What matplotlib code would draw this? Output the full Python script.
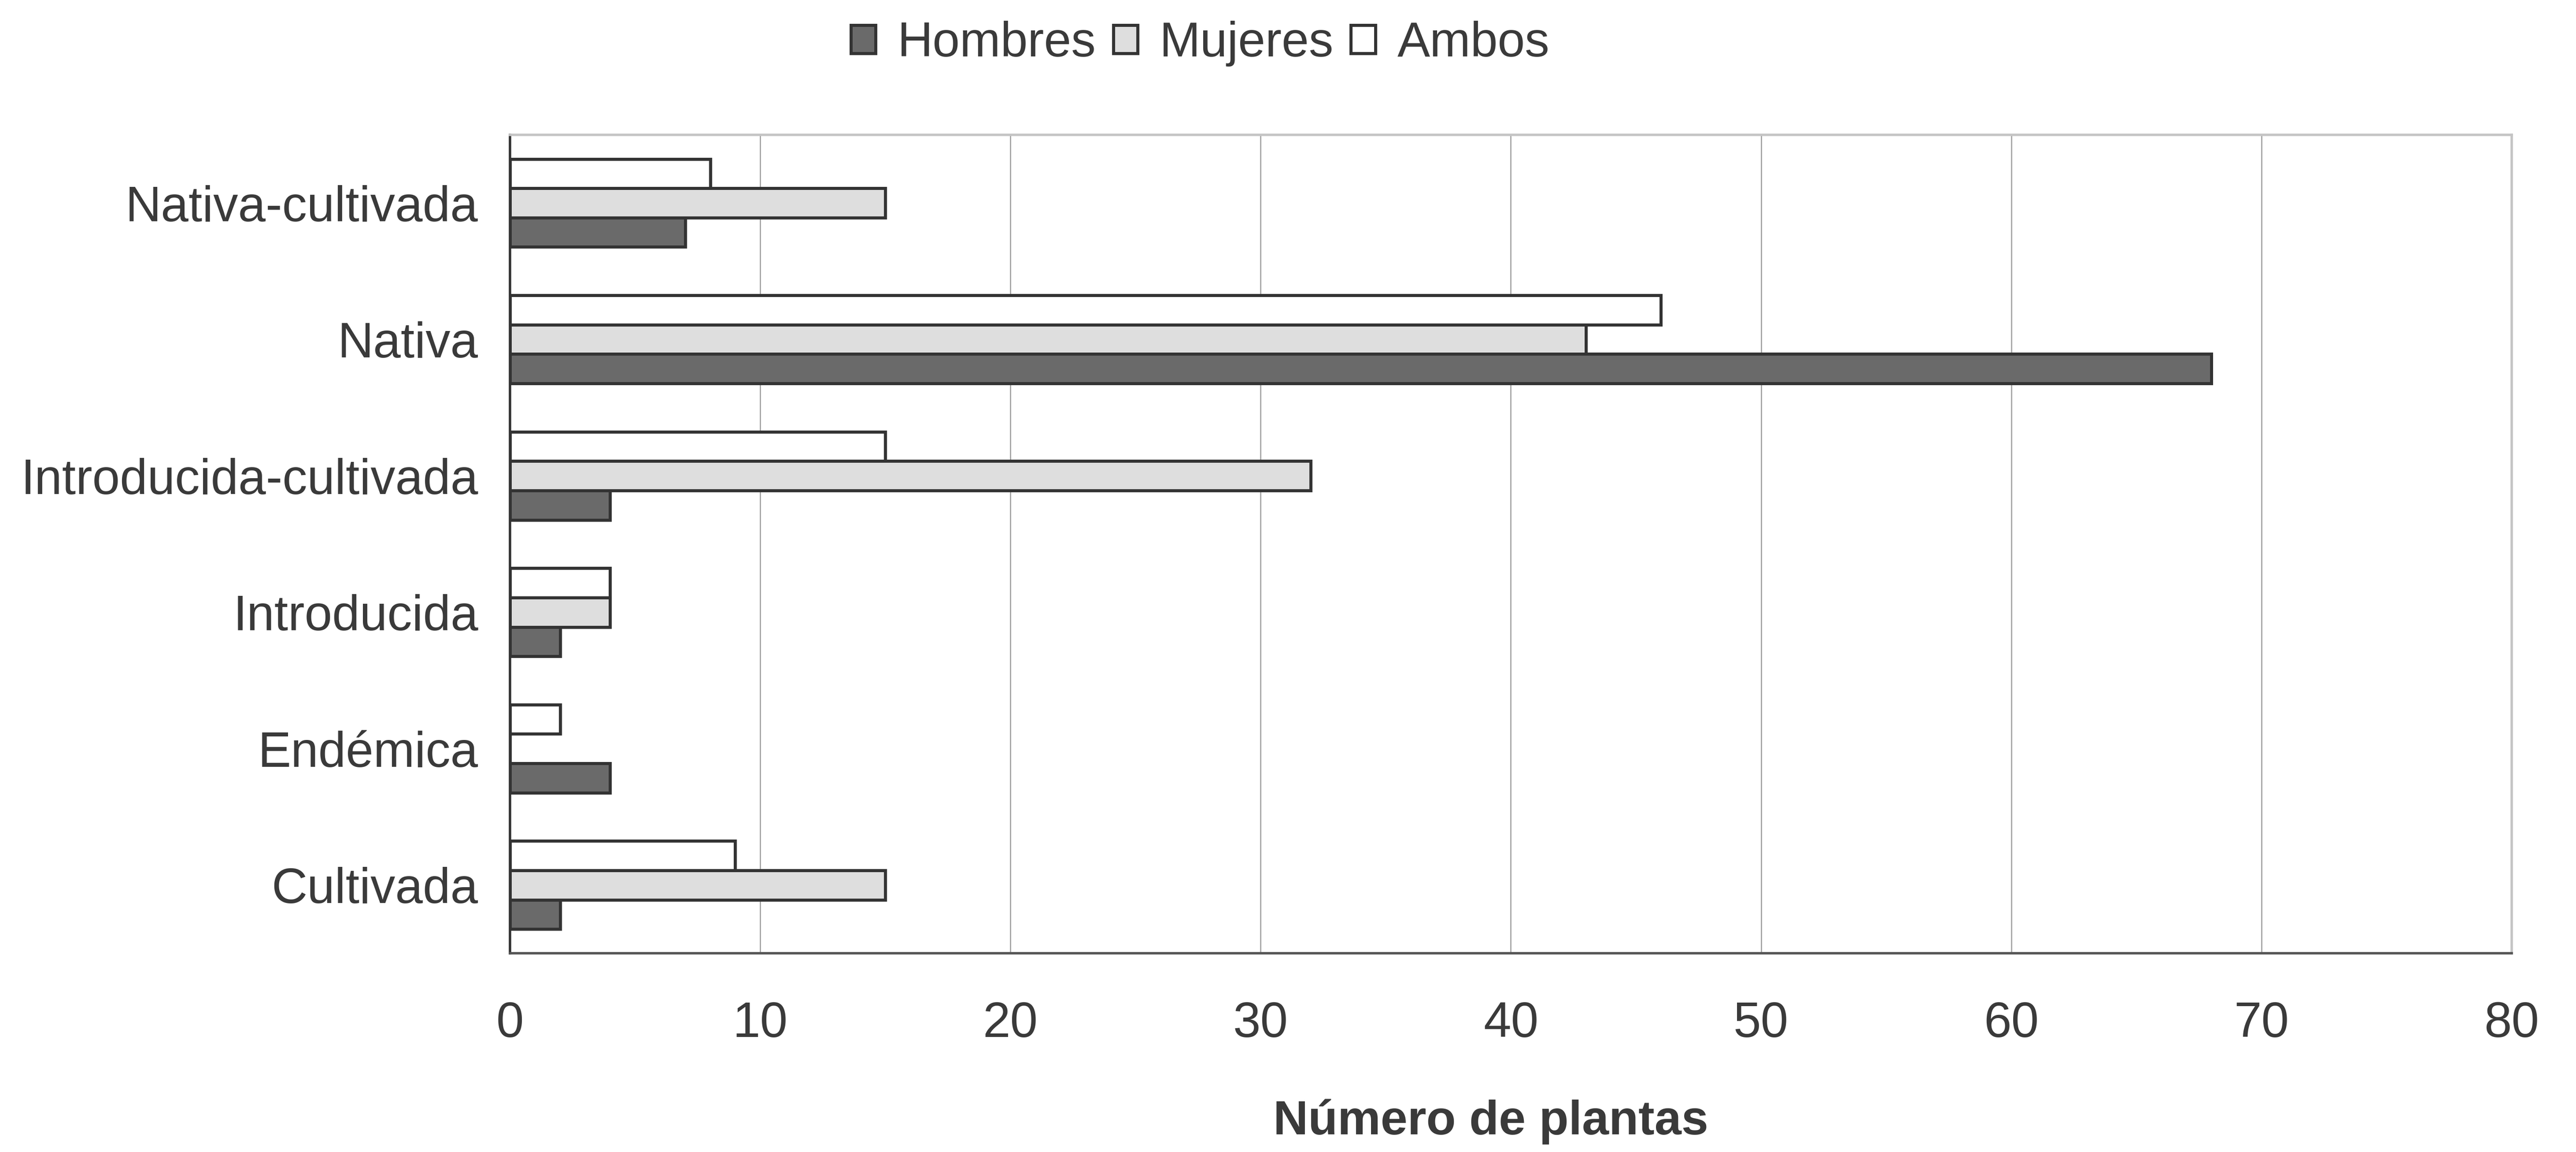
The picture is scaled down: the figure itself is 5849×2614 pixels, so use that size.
import numpy as np
import matplotlib.pyplot as plt

plt.rcParams['font.family'] = ['Liberation Sans', 'DejaVu Sans']

# plant origin categories, bottom to top
categorias = ["Cultivada", "Endémica", "Introducida",
              "Introducida-cultivada", "Nativa", "Nativa-cultivada"]
hombres = [2, 4, 2, 4, 68, 7]
mujeres = [15, 0, 4, 32, 43, 15]
ambos = [9, 2, 4, 15, 46, 8]
series_names = ["Hombres", "Mujeres", "Ambos"]
x_ticks = [0, 10, 20, 30, 40, 50, 60, 70, 80]

fig = plt.figure(figsize=(58.49, 26.14), dpi=100)
ax = fig.add_axes([0.198, 0.1725, 0.777, 0.7105])

y = np.arange(len(categorias))
h = 0.215
edge = "#333333"
ax.barh(y - h, hombres, height=h, color="#6a6a6a", edgecolor=edge, linewidth=5, label=series_names[0], zorder=3)
ax.barh(y, mujeres, height=h, color="#dedede", edgecolor=edge, linewidth=5, label=series_names[1], zorder=3)
ax.barh(y + h, ambos, height=h, color="white", edgecolor=edge, linewidth=5, label=series_names[2], zorder=3)

ax.set_xlim(0, 80)
ax.set_ylim(-0.5, 5.5)
ax.set_xticks(x_ticks)
ax.set_yticks(y)
ax.set_yticklabels(categorias)
ax.tick_params(axis='x', length=0, pad=78, labelsize=81, labelcolor="#3a3a3a")
ax.tick_params(axis='y', length=0, pad=52, labelsize=81, labelcolor="#3a3a3a")

ax.grid(axis='x', color="#9a9a9a", linewidth=1.8, zorder=0)
ax.set_axisbelow(True)

ax.spines['left'].set_color("#333333")
ax.spines['left'].set_linewidth(4)
ax.spines['bottom'].set_color("#555555")
ax.spines['bottom'].set_linewidth(4)
for s in ['top', 'right']:
    ax.spines[s].set_color("#c4c4c4")
    ax.spines[s].set_linewidth(4)

ax.set_xlabel("Número de plantas", fontsize=79, fontweight='bold', color="#3a3a3a")
ax.xaxis.set_label_coords(0.49, -0.178)

fig.legend(loc='center', bbox_to_anchor=(0.466, 0.962), ncol=3, frameon=False,
           fontsize=80, handlelength=0.5, handleheight=0.5, handletextpad=0.45,
           columnspacing=0.35, labelcolor="#3a3a3a")

fig.savefig("out.png", dpi=100, facecolor="white")
